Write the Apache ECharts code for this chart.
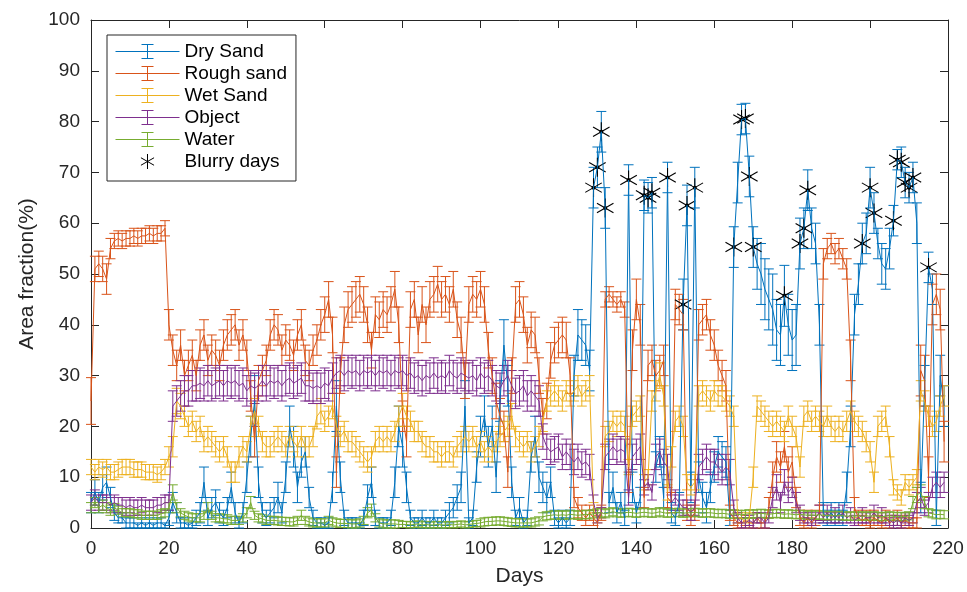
<!DOCTYPE html>
<html><head><meta charset="utf-8">
<script src="https://cdn.jsdelivr.net/npm/echarts@6/dist/echarts.min.js"></script>
<style>html,body{margin:0;padding:0;background:#fff}#c{width:967px;height:592px}</style>
</head><body><div id="c"></div>
<script>
// x ticks / y ticks
const xTicks = [0,20,40,60,80,100,120,140,160,180,200,220];
const yTicks = [0,10,20,30,40,50,60,70,80,90,100];
const seriesNames = ['Dry Sand','Rough sand','Wet Sand','Object','Water','Blurry days'];

// Area fraction (%) per day (index = day)
const drySand = [
5,7,5,8,9,6,3,2,2,1,
1,1,0.5,1,0.5,1,0.5,1,1,0.5,
2,5,3,1,1,0.5,1,2,3,9,
2,4,5,3,2,4,8,3,1,3,
10,18,25,9,3,2,3,4,6,3,
10,20,16,8,13,15,6,2,1,1,
0.5,1,8,24,10,2,1,1,1,0.5,
2,6,9,2,1,1,1,2,9,20,
16,8,2,1,1,2,1,1,2,1,
1,2,3,4,6,8,24,1,2,12,
18,22,16,20,10,25,36,28,9,2,
4,1,2,14,18,10,8,6,9,2,
1,2,1,2,30,38,37,36,31,67,
71,78,63,5,8,3,5,2,68.5,8,
3,6,65.5,65,66,12,15,6,69,3,
2,5,44,63.5,8,67,10,6,4,8,
12,15,14,13,2,55.3,68,80.4,80.6,69.2,
55.3,52,50,47,45,43,39,38,45.7,40,
37,38,56,59,66.5,59,56,40,3,2,
3,2,3,2,8,20,42,48,56,58,
67,62,56,52,51,55,60.5,72.5,72,68,
67,69,60,6,28,51.3,47,2,30,24];
const drySandErr = [
2,2.5,2,2.5,3,2,1.5,1,1,1,
1,1,0.5,1,0.5,1,0.5,1,1,0.5,
1.5,2,2,1,1,0.5,1,1.5,2,3,
1.5,2,2.5,2,1.5,2,3,2,1,2,
3,4,5,3,2,1.5,2,2,3,2,
3,4,4,3,3,3,2,1.5,1,1,
0.5,1,3,5,3,1.5,1,1,1,0.5,
1.5,2.5,3,1.5,1,1,1,1.5,3,4,
4,3,1.5,1,1,1.5,1,1,1.5,1,
1,1.5,2,2,2.5,3,5,1,1.5,3,
4,4,4,4,3,4,5,4,3,1.5,
2,1,1.5,3,4,3,3,3,3,1.5,
1,1.5,1,1.5,4,5,4,4,4,4,
4,4,4,2,3,2,2,1.5,3,3,
2,2,3,3,3,3,3,2,3,2,
1.5,2,5,4,3,4,3,3,3,3,
3,3,3,3,1.5,4,4,3,3,4,
4,5,6,6,6,7,6,6,6,6,
6,6,5,4,4,4,4,4,2,1.5,
2,1.5,2,1.5,3,4,4,4,4,4,
4,4,3,4,4,4,3,2,3,3,
3,3,4,3,4,3,3,1.5,4,4];

const roughSand = [
25,51,52,51,49,55,56.5,57,56.5,57,
57,57.5,57,57.5,57.5,58,57.5,58,58,59,
40,35,32,36,30,32,34,30,36,38,
33,35,34,32,36,38,39,40,36,38,
34,26,17,29,31,33,38,40,39,35,
37,36,34,38,40,33,32,35,37,40,
42,45,38,11,30,40,43,44,45,46,
44,40,35,42,41,43,42,44,47,40,
22,17,43,45,38,44,40,45,46,48,
45,46,44,47,41,38,29,44,46,45,
47,44,35,30,25,22,20,11,30,44,
45,42,36,39,38,30,22,25,33,36,
37,38,37,30,6,4,3,2,3,2,
1,3,45,46,45,44,45,43,9,35,
45,40,6,32,33,30,31,33,6,5,
44,43,42,3,2,3,40,41,42,38,
36,32,30,28,3,2,1,1,1.5,1,
1,2,1,1,4,10,14,12,16,11,
13,6,2,1,2,1,2,3,52,55,
56,54,55,53,51,33,4,2,1.5,2,
1,2,1.5,1,2,1,1.5,2,1,1.5,
1,1,1,31,29,10,44,46,43,17];
const roughSandErr = [
4.6,2.5,2.5,2.5,3,2,1.5,1.5,1.5,1.5,
1.5,1.5,1.5,1.5,1.5,1.5,1.5,1.5,1.5,1.5,
3,3,3,3,3,3,3,3,3,3,
3,3,3,3,3,3,3,3,3,3,
3,3,3,3,3,3,3,3,3,3,
3,3,3,3,3,3,3,3,3,3,
3.5,3.5,3.5,3,3.5,3.5,3.5,3.5,3.5,3.5,
3.5,3.5,3.5,3.5,3.5,3.5,3.5,3.5,3.5,3.5,
3,3,3.5,3.5,3.5,3.5,3.5,3.5,3.5,3.5,
3.5,3.5,3.5,3.5,3.5,3.5,3.5,3.5,3.5,3.5,
3.5,3.5,3.5,3.5,3.5,3.5,3,3,3.5,3.5,
3.5,3.5,3.5,3.5,3.5,3.5,3.5,3.5,3.5,3.5,
3.5,3.5,3.5,3.5,2,2,1.5,1.5,1.5,1.5,
1.5,1.5,1.5,1.5,1.5,1.5,1.5,1.5,2,4,
4,4,2,3,3,3,3,3,2,2,
3,3,3,1.5,1.5,1.5,3,3,3,3,
3,3,3,3,1.5,1.5,1,1,1,1,
1,1,1,1,2,3,3,3,3,3,
3,2,1.5,1,1.5,1,1.5,1.5,3,2,
2,2,2,2,2,4,2,1.5,1,1.5,
1,1.5,1,1,1.5,1,1,1.5,1,1,
1,1,1,5,5,4,4,4,4,4];

const wetSand = [
12,11,12,11.5,12,11,11,11.5,12,12,
12,11.5,11.5,11.5,11,11,11,10.5,11,12,
14,16,25,24,22,20,21,19,20,17,
18,17,16,15,16,14,11,11,14,16,
15,20,23,20,17,16,16,17,18,17,
16,18,17,16,18,16,16,18,22,23,
21,22,24,20,18,19,17,17,16,15,
14,13,14,17,18,17,18,17,19,22,
24,22,21,19,19,17,16,16,15,15,
14,15,15,14,16,17,18,17,18,16,
17,15,16,15,17,18,19,20,22,18,
17,16,17,15,16,18,21,25,26,27,
26,25,27,26,27,28,26,27,28,4,
2,3,18,19,21,20,21,20,12,22,
23,24,9,10,25,27,30,26,7,14,
21,22,20,9,8,9,26,27,26,25,
27,26,26,25,24,22,2,2,1,2,
10,24,23,22,21,20,21,20,19,22,
20,18,12,22,23,21,22,21,20,22,
20,19,20,19,21,23,21,20,19,17,
15,9,20,21,22,16,8,7,6,9,
8,9,10,27,25,22,20,21,24,26];
const wetSandErr = [
1.5,1.5,1.5,1.5,1.5,1.5,1.5,1.5,1.5,1.5,
1.5,1.5,1.5,1.5,1.5,1.5,1.5,1.5,1.5,1.5,
2,2,2.5,2.5,2,2,2,2,2,2,
2,2,2,2,2,2,2,2,2,2,
2,2,2.5,2,2,2,2,2,2,2,
2,2,2,2,2,2,2,2,2.5,2.5,
2,2,2.5,2,2,2,2,2,2,2,
2,2,2,2,2,2,2,2,2,2,
2.5,2,2,2,2,2,2,2,2,2,
2,2,2,2,2,2,2,2,2,2,
2,2,2,2,2,2,2,2,2.5,2,
2,2,2,2,2,2,2,2,2,2,
2,2,2,2,2,2,2,2,2,1,
1,1,2,2,2,2,2,2,1.5,2,
2,2,1.5,1.5,2,2,2.5,2,1.5,2,
2,2,2,1.5,1.5,1.5,2,2,2,2,
2,2,2,2,2,2,1,1,1,1,
2,2,2,2,2,2,2,2,2,2,
2,2,2,2,2,2,2,2,2,2,
2,2,2,2,2,2,2,2,2,2,
2,2,2,2,2,2,1.5,1.5,1.5,1.5,
1.5,1.5,1.5,2,2,2,2,2,2,2];

const objectArea = [
5,6,5,5,5,4.5,5,4.5,4.5,4,
4.5,4,4,4.5,4,4,4,4.5,4.5,5,
5,24,25,26,27,27,28,28,28.5,28,
29,28,28.5,29,28,29,28.5,29,28,28.5,
27,28,27.5,28,29,28,29,28.5,29,28,
29,29.5,28.5,29,29.5,28,28,27.5,28,27.5,
28.5,28,29.5,30.5,31,30,31,30.5,31,30,
31,30.5,31,30,31,30.5,31,30,31,30.5,
31,30,30.5,29.5,30,29,30,29.5,30.5,29.5,
30,29.5,31,30,29.5,30.5,30,29.5,30,29,
30.5,29.5,30,29,28,27.5,29,30,28,26.5,
27,28,26,27,26,25,18,16,15,15.5,
16,14,15,14,13,14,12.5,13,12,5,
2,3,14,15,16,15,15.5,15,6,14,
15,16,8,9,7,14,15,13,12,5,
6,5,4,4,3,4,12,13,14,13,
13,12,11,12,11,4,2,1,1,1.5,
1,2,2,1,2,6,8,5,9,7,
8,5,3,2,2,1.5,2,3,2,3,
2,2.5,2,3,2,2.5,1.5,2,2.5,2,
2,3,2,2.5,2,1.5,1,1.5,1,2,
1.5,2,5,6,4,5,8,9,8,9];
const objectErr = [
1.5,1.5,1.5,1.5,1.5,1.5,1.5,1.5,1.5,1.5,
1.5,1.5,1.5,1.5,1.5,1.5,1.5,1.5,1.5,1.5,
1.5,3,3,3,3,3,3,3,3,3,
3,3,3,3,3,3,3,3,3,3,
3,3,3,3,3,3,3,3,3,3,
3,3,3,3,3,3,3,3,3,3,
3,3,3,3,3,3,3,3,3,3,
3,3,3,3,3,3,3,3,3,3,
3,3,3,3,3,3,3,3,3,3,
3,3,3,3,3,3,3,3,3,3,
3,3,3,3,3,3,3,3,3,3,
3,3,3,3,3,3,2.5,2.5,2.5,2.5,
2.5,2.5,2.5,2.5,2.5,2.5,2.5,2.5,2.5,1.5,
1,1,2.5,2.5,2.5,2.5,2.5,2.5,1.5,2.5,
2.5,2.5,1.5,1.5,1.5,2.5,2.5,2.5,2.5,1.5,
1.5,1.5,1.5,1.5,1.5,1.5,2.5,2.5,2.5,2.5,
2.5,2.5,2.5,2.5,2.5,1.5,1,1,1,1,
1,1,1,1,1,2,2.5,2,2.5,2,
2,2,1.5,1,1,1,1,1.5,1,1.5,
1,1.5,1,1.5,1,1.5,1,1,1.5,1,
1,1.5,1,1.5,1,1,1,1,1,1,
1,1,2,2,1.5,2,2,2,2,2];

const water = [
4,5,4,4.5,4,3.5,4,3.5,3,3,
3,2.8,2.8,2.5,2.5,2.5,2.5,2.5,2.8,3,
4,7,4,3,2.5,2.2,2,2,2,2.5,
4,2.5,2,2,1.8,1.8,1.5,1.5,1.5,2,
3,5,2.5,2,1.8,1.5,1.5,1.5,1.4,1.3,
1.3,1.2,1.2,1.5,2.5,1.5,1.2,1,1,1,
1,1.5,1.2,1,0.9,0.9,0.9,0.8,0.8,1,
1.5,3,3.5,2,1,0.8,0.8,0.8,0.8,0.7,
0.7,0.7,0.6,0.7,0.8,0.6,0.7,0.6,0.6,0.7,
0.6,0.6,0.7,0.6,0.7,0.8,0.6,0.7,0.8,0.9,
1,1.2,1.3,1.3,1.4,1.4,1.3,1.2,1.1,1,
1,1,1,1,1.2,1.4,2.2,2.4,2.5,2.6,
2.5,2.6,2.5,2.7,2.6,2.5,2.6,2.7,2.6,2.8,
3,3,2.8,3,3.2,3,2.9,3,3.1,3,
2.9,3,3.1,3,2.9,3,3.2,3,2.9,3,
3,3.1,2.9,3,3,3.1,3,2.9,3,3,
2.9,2.8,2.9,2.8,2.7,2.8,2.7,2.6,2.7,2.8,
2.7,2.8,2.9,2.8,2.7,2.8,2.9,2.8,2.7,2.8,
2.7,2.6,2.7,2.6,2.5,2.6,2.5,2.6,2.5,2.4,
2.5,2.4,2.5,2.4,2.3,2.4,2.3,2.4,2.3,2.4,
2.3,2.4,2.3,2.2,2.3,2.4,2.3,2.2,2.3,2.2,
2.4,5,6.5,7,5,3,2.8,2.6,2.7,2.6];
const waterErr = [
1,1,1,1,1,1,0.8,0.8,0.8,0.8,
0.8,0.8,0.8,0.8,0.8,0.8,0.8,0.8,0.8,0.8,
1,1.5,1,0.8,0.8,0.8,0.8,0.8,0.8,0.8,
1,0.8,0.8,0.8,0.8,0.8,0.8,0.8,0.8,0.8,
1,1.2,0.8,0.8,0.8,0.8,0.8,0.8,0.8,0.8,
0.8,0.8,0.8,0.8,1,0.8,0.8,0.8,0.8,0.8,
0.8,0.8,0.8,0.8,0.8,0.8,0.8,0.8,0.8,0.8,
0.8,1,1.2,0.8,0.8,0.8,0.8,0.8,0.8,0.8,
0.6,0.6,0.6,0.6,0.6,0.6,0.6,0.6,0.6,0.6,
0.6,0.6,0.6,0.6,0.6,0.6,0.6,0.6,0.6,0.6,
0.8,0.8,0.8,0.8,0.8,0.8,0.8,0.8,0.8,0.8,
0.8,0.8,0.8,0.8,0.8,0.8,0.8,0.8,0.8,0.8,
0.8,0.8,0.8,0.8,0.8,0.8,0.8,0.8,0.8,0.8,
0.8,0.8,0.8,0.8,0.8,0.8,0.8,0.8,0.8,0.8,
0.8,0.8,0.8,0.8,0.8,0.8,0.8,0.8,0.8,0.8,
0.8,0.8,0.8,0.8,0.8,0.8,0.8,0.8,0.8,0.8,
0.8,0.8,0.8,0.8,0.8,0.8,0.8,0.8,0.8,0.8,
0.8,0.8,0.8,0.8,0.8,0.8,0.8,0.8,0.8,0.8,
0.8,0.8,0.8,0.8,0.8,0.8,0.8,0.8,0.8,0.8,
0.8,0.8,0.8,0.8,0.8,0.8,0.8,0.8,0.8,0.8,
0.8,0.8,0.8,0.8,0.8,0.8,0.8,0.8,0.8,0.8,
0.8,1.2,1.5,1.5,1.2,0.8,0.8,0.8,0.8,0.8];

// Days marked as blurry (shown on the Dry Sand curve)
const blurryDays = [129,130,131,132,138,142,143,144,148,152,153,155,165,167,168,169,170,178,182,183,184,198,200,201,206,207,208,209,210,211,215];

const FONT = "'Liberation Sans', Arial, Helvetica, sans-serif";
const AX = '#262626';
const COL = ['#0072BD','#D95319','#EDB120','#7E2F8E','#77AC30','#000000'];
const VALS = [drySand, roughSand, wetSand, objectArea, water];
const ERRS = [drySandErr, roughSandErr, wetSandErr, objectErr, waterErr];

function errSeries(name, color, vals, errs) {
  return {
    type: 'custom', name: name + '_err', silent: true, animation: false,
    data: vals.map((v, i) => [i, v, errs[i]]),
    encode: { x: 0, y: 1 },
    renderItem: function (params, api) {
      const x = api.value(0), y = api.value(1), e = api.value(2);
      const lo = y - e, hi = y + e;
      const pLo = api.coord([x, Math.max(lo, 0)]);
      const pHi = api.coord([x, Math.min(hi, 100)]);
      const st = { stroke: color, lineWidth: 1 };
      const cw = 5;
      const ch = [{ type: 'line', shape: { x1: pLo[0], y1: pLo[1], x2: pHi[0], y2: pHi[1] }, style: st }];
      if (lo >= 0) ch.push({ type: 'line', shape: { x1: pLo[0] - cw, y1: pLo[1], x2: pLo[0] + cw, y2: pLo[1] }, style: st });
      if (hi <= 100) ch.push({ type: 'line', shape: { x1: pHi[0] - cw, y1: pHi[1], x2: pHi[0] + cw, y2: pHi[1] }, style: st });
      return { type: 'group', children: ch };
    }
  };
}
function lineSeries(name, color, vals) {
  return {
    type: 'line', name: name, data: vals.map((v, i) => [i, v]),
    showSymbol: false, symbol: 'none', animation: false,
    lineStyle: { width: 1, color: color }, itemStyle: { color: color },
    emphasis: { disabled: true }
  };
}

const series = [];
for (let k = 0; k < 5; k++) {
  series.push(errSeries(seriesNames[k], COL[k], VALS[k], ERRS[k]));
  series.push(lineSeries(seriesNames[k], COL[k], VALS[k]));
}
series.push({
  type: 'custom', name: 'Blurry days', animation: false,
  data: blurryDays.map(d => [d, drySand[d]]),
  encode: { x: 0, y: 1 },
  itemStyle: { color: '#000' },
  renderItem: function (params, api) {
    const p = api.coord([api.value(0), api.value(1)]);
    const r = 9.5, dx = r * 0.87, dy = r * 0.5;
    const st = { stroke: '#000', lineWidth: 1.1 };
    return { type: 'group', children: [
      { type: 'line', shape: { x1: p[0], y1: p[1] - r, x2: p[0], y2: p[1] + r }, style: st },
      { type: 'line', shape: { x1: p[0] - dx, y1: p[1] - dy, x2: p[0] + dx, y2: p[1] + dy }, style: st },
      { type: 'line', shape: { x1: p[0] - dx, y1: p[1] + dy, x2: p[0] + dx, y2: p[1] - dy }, style: st },
      { type: 'circle', shape: { cx: p[0], cy: p[1], r: 2 }, style: { fill: '#000' } }
    ]};
  }
});

const EB_ICON = 'path://M0,7L64,7M32,0L32,14M26,0L38,0M26,14L38,14';
const STAR_ICON = 'path://M8.3,0L8.3,19M0,4.75L16.6,14.25M0,14.25L16.6,4.75';
const legendData = seriesNames.map((n, k) => ({
  name: n,
  icon: k < 5 ? EB_ICON : STAR_ICON,
  itemStyle: { color: 'rgba(0,0,0,0)', borderColor: COL[k], borderWidth: 1 }
}));

function axisCommon(extra) {
  return Object.assign({
    type: 'value',
    axisLine: { show: true, onZero: false, lineStyle: { color: AX, width: 1 } },
    axisTick: { show: true, inside: true, length: 8, lineStyle: { color: AX, width: 1 } },
    splitLine: { show: false }
  }, extra);
}

const chart = echarts.init(document.getElementById('c'), null, { renderer: 'canvas' });
chart.setOption({
  animation: false,
  backgroundColor: '#fff',
  grid: { left: 91, right: 19, top: 20, bottom: 62, containLabel: false },
  xAxis: [
    axisCommon({ position: 'bottom', min: xTicks[0], max: xTicks[xTicks.length - 1], interval: 20,
      axisLabel: { show: true, color: AX, fontFamily: FONT, fontSize: 19, margin: 11 },
      name: 'Days', nameLocation: 'middle', nameGap: 38,
      nameTextStyle: { color: AX, fontFamily: FONT, fontSize: 21 } }),
    axisCommon({ position: 'top', min: xTicks[0], max: xTicks[xTicks.length - 1], interval: 20,
      axisLabel: { show: false } })
  ],
  yAxis: [
    axisCommon({ position: 'left', min: yTicks[0], max: yTicks[yTicks.length - 1], interval: 10,
      axisLabel: { show: true, color: AX, fontFamily: FONT, fontSize: 19, margin: 11 },
      name: 'Area fraction(%)', nameLocation: 'middle', nameGap: 52,
      nameTextStyle: { color: AX, fontFamily: FONT, fontSize: 21 } }),
    axisCommon({ position: 'right', min: yTicks[0], max: yTicks[yTicks.length - 1], interval: 10,
      axisLabel: { show: false } })
  ],
  legend: {
    show: true, orient: 'vertical', left: 107, top: 35,
    padding: [7, 9, 10, 8], itemGap: 3, itemWidth: 64, itemHeight: 15,
    backgroundColor: '#fff', borderColor: AX, borderWidth: 1, borderRadius: 0,
    selectedMode: false,
    textStyle: { fontFamily: FONT, fontSize: 19, color: '#000' },
    data: legendData
  },
  series: series
});
</script>
</body></html>
